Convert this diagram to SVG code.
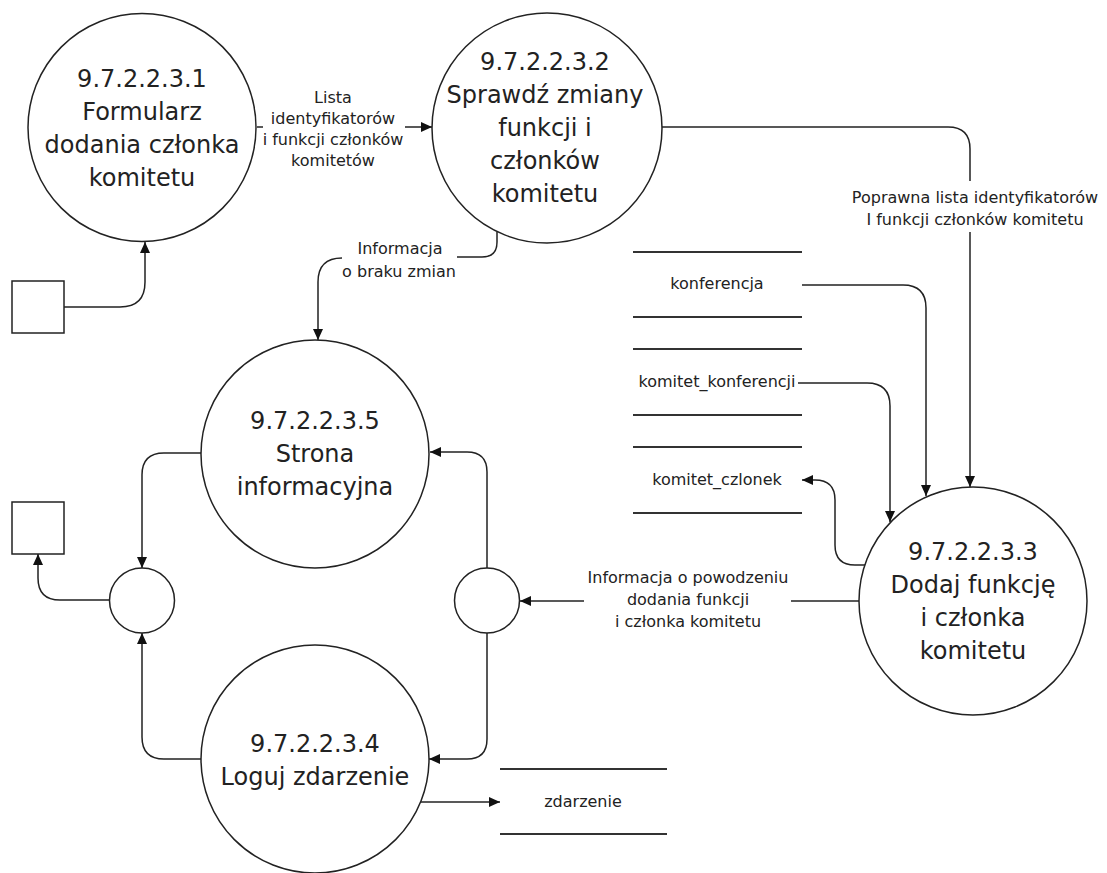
<svg xmlns="http://www.w3.org/2000/svg" width="1107" height="873" viewBox="0 0 1107 873">
<style>
.proc{fill:#fff;stroke:#222;stroke-width:1.5}
.ent{fill:#fff;stroke:#222;stroke-width:1.5}
.big{font-family:"DejaVu Sans",Verdana,sans-serif;font-size:24px;fill:#222;text-anchor:middle}
.lbl{font-family:"DejaVu Sans",Verdana,sans-serif;font-size:16px;fill:#222;text-anchor:middle}
.st{stroke:#333;stroke-width:2}
.fl{fill:none;stroke:#222;stroke-width:1.5}
.fa{fill:none;stroke:#222;stroke-width:1.5;marker-end:url(#arr)}
</style>
<defs>
<marker id="arr" markerUnits="userSpaceOnUse" markerWidth="11" markerHeight="10" refX="11" refY="5" orient="auto">
<path d="M0,0 L11,5 L0,10 z" fill="#111"/>
</marker>
</defs>
<g id="connectors">
<path class="fa" d="M64,307 H120 Q145,307 145,282 V242"/>
<path class="fl" d="M257,127 H263"/>
<path class="fa" d="M405,127 H432"/>
<path class="fl" d="M662,127 H948 Q970,127 970,149 V181"/>
<path class="fa" d="M970,232 V487"/>
<path class="fl" d="M497,232 V242 Q497,257 482,257 H457"/>
<path class="fa" d="M342,258 Q318,258 318,282 V340"/>
<path class="fa" d="M802,285 H903 Q926,285 926,308 V496"/>
<path class="fa" d="M798,383 H867 Q890,383 890,406 V522"/>
<path class="fa" d="M865,565 H855 Q835,565 835,545 V500 Q835,480 815,480 H802"/>
<path class="fl" d="M859,601 H791"/>
<path class="fa" d="M584,601 H520"/>
<path class="fa" d="M487,568 V472 Q487,452 467,452 H430"/>
<path class="fa" d="M487,633 V739 Q487,759 467,759 H429"/>
<path class="fa" d="M201,453 H164 Q142,453 142,475 V568"/>
<path class="fa" d="M201,759 H164 Q142,759 142,737 V633"/>
<path class="fa" d="M109,600 H60 Q38,600 38,578 V554"/>
<path class="fa" d="M421,802 H500"/>
<text class="lbl"><tspan x="333" y="103">Lista</tspan><tspan x="333" y="124">identyfikatorów</tspan><tspan x="333" y="145">i funkcji członków</tspan><tspan x="333" y="166">komitetów</tspan></text>
<text class="lbl"><tspan x="975" y="203">Poprawna lista identyfikatorów</tspan><tspan x="975" y="225">I funkcji członków komitetu</tspan></text>
<text class="lbl"><tspan x="400" y="254">Informacja</tspan><tspan x="399" y="277">o braku zmian</tspan></text>
<text class="lbl"><tspan x="688" y="583">Informacja o powodzeniu</tspan><tspan x="688" y="605">dodania funkcji</tspan><tspan x="688" y="627">i członka komitetu</tspan></text>
</g>
<g id="ent1"><rect class="ent" x="12" y="281" width="52" height="52"/></g>
<g id="ent2"><rect class="ent" x="12" y="502" width="52" height="52"/></g>
<g id="p1">
<circle class="proc" cx="142" cy="127.5" r="114"/>
<text class="big"><tspan x="142" y="87">9.7.2.2.3.1</tspan><tspan x="142" y="120">Formularz</tspan><tspan x="142" y="153">dodania członka</tspan><tspan x="142" y="186">komitetu</tspan></text>
</g>
<g id="p2">
<circle class="proc" cx="547" cy="128" r="115"/>
<text class="big"><tspan x="545" y="70">9.7.2.2.3.2</tspan><tspan x="545" y="103">Sprawdź zmiany</tspan><tspan x="545" y="136">funkcji i</tspan><tspan x="545" y="169">członków</tspan><tspan x="545" y="202">komitetu</tspan></text>
</g>
<g id="p3">
<circle class="proc" cx="973" cy="601" r="114"/>
<text class="big"><tspan x="973" y="560">9.7.2.2.3.3</tspan><tspan x="973" y="593">Dodaj funkcję</tspan><tspan x="973" y="626">i członka</tspan><tspan x="973" y="659">komitetu</tspan></text>
</g>
<g id="p5">
<circle class="proc" cx="315" cy="454" r="114"/>
<text class="big"><tspan x="315" y="429">9.7.2.2.3.5</tspan><tspan x="315" y="462">Strona</tspan><tspan x="315" y="495">informacyjna</tspan></text>
</g>
<g id="p4">
<circle class="proc" cx="315" cy="759" r="114"/>
<text class="big"><tspan x="315" y="752">9.7.2.2.3.4</tspan><tspan x="315" y="785">Loguj zdarzenie</tspan></text>
</g>
<g id="j1"><circle class="proc" cx="142" cy="600.5" r="32.5"/></g>
<g id="j2"><circle class="proc" cx="487" cy="600.5" r="32.5"/></g>
<g id="s1">
<line class="st" x1="633" y1="252" x2="802" y2="252"/><line class="st" x1="633" y1="317" x2="802" y2="317"/>
<text class="lbl" x="717" y="289">konferencja</text>
</g>
<g id="s2">
<line class="st" x1="633" y1="349" x2="802" y2="349"/><line class="st" x1="633" y1="415" x2="802" y2="415"/>
<text class="lbl" x="717" y="387">komitet_konferencji</text>
</g>
<g id="s3">
<line class="st" x1="633" y1="447" x2="802" y2="447"/><line class="st" x1="633" y1="513" x2="802" y2="513"/>
<text class="lbl" x="717" y="485">komitet_czlonek</text>
</g>
<g id="s4">
<line class="st" x1="500" y1="769" x2="667" y2="769"/><line class="st" x1="500" y1="834" x2="667" y2="834"/>
<text class="lbl" x="583" y="807">zdarzenie</text>
</g>
</svg>
